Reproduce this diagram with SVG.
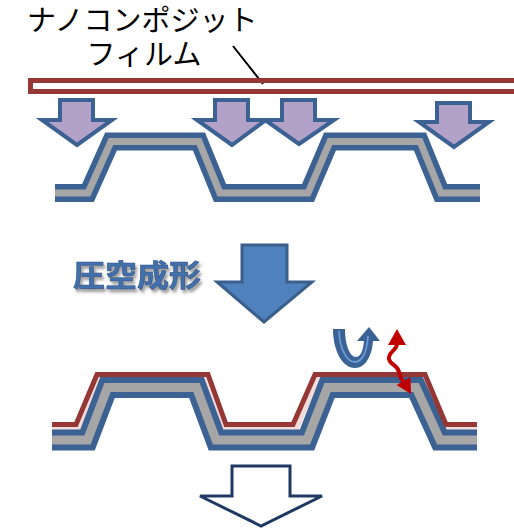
<svg xmlns="http://www.w3.org/2000/svg" width="514" height="529" viewBox="0 0 514 529">
  <defs>
    <style>
      .label { font-family: "Noto Sans CJK JP", "Noto Sans", sans-serif; fill: #000; }
      .press { fill: #b3a2c7; stroke: #3c6193; stroke-width: 4; stroke-linejoin: miter; }
      .band-edge { fill: none; stroke: #3c6193; stroke-linejoin: miter; stroke-linecap: butt; }
      .band-core { fill: none; stroke: #a6a6a6; stroke-linejoin: miter; stroke-linecap: butt; }
      .film { fill: none; stroke: #953735; stroke-width: 5; stroke-linejoin: miter; stroke-linecap: butt; }
      .film-gap { fill: none; stroke: #f2dcdb; stroke-width: 5; stroke-linejoin: miter; stroke-linecap: butt; }
      .leader { stroke: #000; stroke-width: 2; }
    </style>
    <!-- soft grey shadow under the process label -->
    <filter id="textShadow" x="-10%" y="-30%" width="125%" height="170%">
      <feGaussianBlur in="SourceAlpha" stdDeviation="1.6" result="blur"/>
      <feOffset in="blur" dx="2" dy="3" result="shifted"/>
      <feFlood flood-color="#7f7f7f" flood-opacity="0.8"/>
      <feComposite in2="shifted" operator="in" result="shadow"/>
      <feMerge>
        <feMergeNode in="shadow"/>
        <feMergeNode in="SourceGraphic"/>
      </feMerge>
    </filter>
  </defs>

  <!-- film label with leader line -->
  <g id="film-label">
    <text class="label" x="27" y="31" font-size="29">ナノコンポジット</text>
    <text class="label" x="144" y="65" font-size="29" text-anchor="middle">フィルム</text>
    <line class="leader" x1="233" y1="46" x2="263" y2="84"/>
  </g>

  <!-- flat nanocomposite film before forming -->
  <g id="film-sheet">
    <rect x="30.5" y="80.5" width="500" height="11" fill="none" stroke="#953735" stroke-width="5"/>
  </g>

  <!-- air pressure arrows -->
  <g id="pressure-arrows">
    <polygon class="press" points="60,100 93,100 93,120 112,120 77,145 42,120 60,120"/>
    <polygon class="press" points="215,100 248,100 248,120 266,120 232,145 197,120 215,120"/>
    <polygon class="press" points="282,100 315,100 315,120 334,120 299,144 265,120 282,120"/>
    <polygon class="press" points="437,103 470,103 470,122 489,122 454,147 419,122 437,122"/>
  </g>

  <!-- mold before forming -->
  <g id="mold-top">
    <polyline class="band-edge" stroke-width="18" points="55,193 88,193 111,141.5 199,141.5 220,193 308,193 330,141.5 420,141.5 441,193 480,193"/>
    <polyline class="band-core" stroke-width="7" points="55,193 88,193 111,141.5 199,141.5 220,193 308,193 330,141.5 420,141.5 441,193 480,193"/>
  </g>

  <!-- process label -->
  <g id="process-label">
    <text x="73" y="286" font-family="Noto Sans CJK JP, sans-serif" font-weight="bold" font-size="30" fill="#4270ab" stroke="#2f5587" stroke-width="0.6" textLength="128" lengthAdjust="spacingAndGlyphs" filter="url(#textShadow)">圧空成形</text>
  </g>

  <!-- forming step arrow -->
  <g id="forming-arrow">
    <polygon points="242,245 287,245 287,282 312,282 264,322 217,282 242,282" fill="#4f81bd" stroke="#3a5f8b" stroke-width="3"/>
  </g>

  <!-- film formed onto the mold -->
  <g id="mold-bottom">
    <polyline class="film-gap" points="52,428.4 78.9,428.4 99.6,377.8 205.1,377.8 223.5,428.4 296.5,428.4 318.1,377.8 422.8,377.8 444.5,428.4 477,428.4"/>
    <polyline class="band-edge" stroke-width="21" points="52,440 87.5,440 107.5,387.5 196.5,387.5 216,440 307,440 327.5,387.5 416,387.5 440,440 477,440"/>
    <polyline class="band-core" stroke-width="9" points="52,440 87.5,440 107.5,387.5 196.5,387.5 216,440 307,440 327.5,387.5 416,387.5 440,440 477,440"/>
    <polyline class="film" points="52,424.5 76,424.5 97,374.5 208,374.5 226,424.5 293,424.5 315,374.5 425,374.5 446,424.5 477,424.5"/>
  </g>

  <!-- U-turn arrow -->
  <g id="uturn-arrow">
    <path d="M333,329 C333,350 342,368 355,368 C366,368 372,355 373,341 L380,341 L369,327 L357,341 L364,341 C363,352 360,357 356,357 C350,357 345,345 345,329 Z" fill="#3b6294"/>
    <path d="M339,331 C340,350 347,362 355,362 C362,362 367,352 368,336" fill="none" stroke="#6b9bd6" stroke-width="1.8"/>
  </g>

  <!-- wavy red double arrow -->
  <g id="wavy-arrow">
    <path d="M397,344 C397,350 388,352 389,359 C390,365 398,365 399,372 C400,376 401,379 403,382" fill="none" stroke="#c00000" stroke-width="4"/>
    <polygon points="397,329 388,345 406,345" fill="#c00000"/>
    <polygon points="411,394 396.5,385 410.5,377" fill="#c00000"/>
  </g>

  <!-- next step arrow -->
  <g id="next-arrow">
    <polygon points="232,466 290,466 290,496 322,496 261,526 200,496 232,496" fill="#fff" stroke="#1f3864" stroke-width="3"/>
  </g>
</svg>
